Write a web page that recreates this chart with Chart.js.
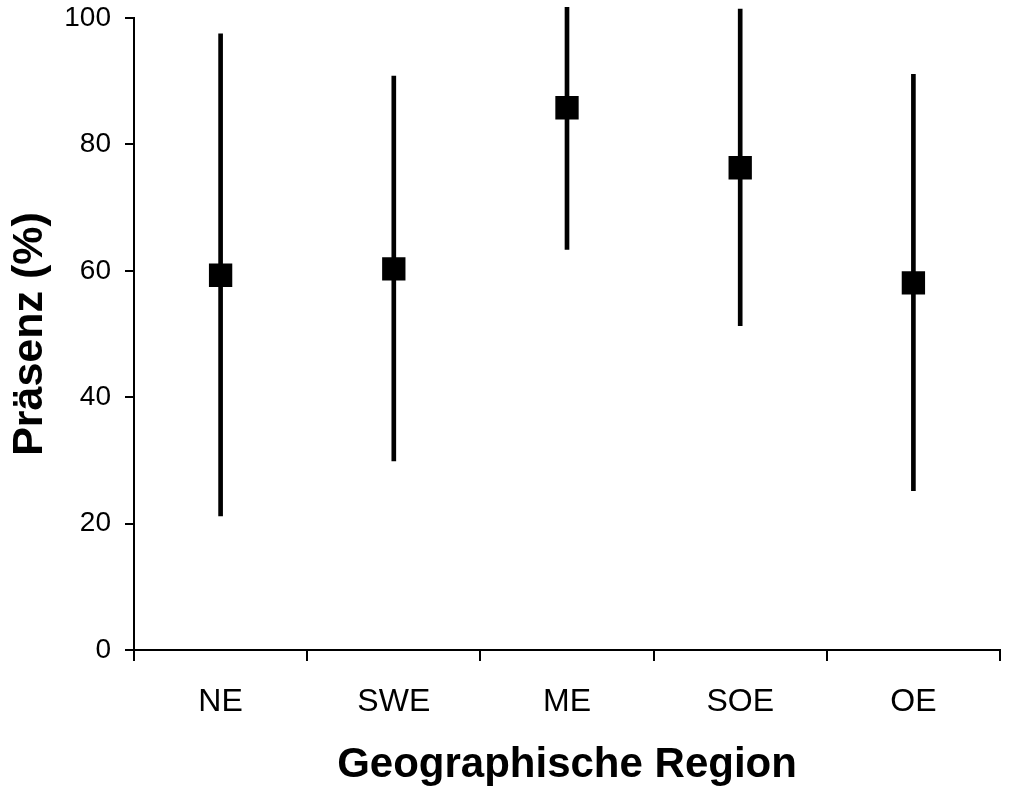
<!DOCTYPE html>
<html>
<head>
<meta charset="utf-8">
<script src="https://cdn.jsdelivr.net/npm/chart.js@4"></script>
<style>
  html, body { margin: 0; padding: 0; background: #fff; }
  #wrap { width: 1009px; height: 791px; }
</style>
</head>
<body>
<div id="wrap"><canvas id="chart"></canvas></div>
<script>
const regions = ['NE', 'SWE', 'ME', 'SOE', 'OE'];
const presence = [59.3, 60.3, 85.8, 76.3, 58.1];
const lowBound = [21.2, 29.9, 63.4, 51.3, 25.2];
const highBound = [97.5, 90.8, 101.7, 101.4, 91.1];
const yTicks = [0, 20, 40, 60, 80, 100];

const ranges = regions.map((r, i) => [lowBound[i], highBound[i]]);
const font = 'Liberation Sans, Arial, Helvetica, sans-serif';

new Chart(document.getElementById('chart'), {
    type: 'bar',
    data: {
        labels: regions,
        datasets: [
            {
                type: 'line',
                label: 'Präsenz',
                data: presence,
                showLine: false,
                pointStyle: 'rect',
                pointRadius: 16.5,
                pointHoverRadius: 16.5,
                backgroundColor: '#000',
                borderColor: '#000',
                borderWidth: 0,
                order: 0
            },
            {
                label: 'Bereich',
                data: ranges,
                backgroundColor: '#000',
                borderWidth: 0,
                barThickness: 4,
                clip: false,
                order: 1
            }
        ]
    },
    options: {
        responsive: true,
        maintainAspectRatio: false,
        animation: false,
        layout: { autoPadding: false, padding: { top: 18, right: 9, left: 0, bottom: 0 } },
        plugins: {
            legend: { display: false },
            tooltip: { enabled: false }
        },
        scales: {
            x: {
                offset: true,
                afterFit: function (axis) {
                    axis.height = 141;
                    axis.paddingLeft = 0;
                    axis.paddingRight = 0;
                },
                border: { display: true, color: '#000', width: 2 },
                grid: { display: true, offset: true, drawOnChartArea: false, color: '#000', lineWidth: 2, tickLength: 11 },
                ticks: { color: '#000', font: { family: font, size: 32 }, padding: 22 },
                title: {
                    display: true,
                    text: 'Geographische Region',
                    color: '#000',
                    font: { family: font, size: 42, weight: 'bold' },
                    padding: { top: 0, bottom: 0 }
                }
            },
            y: {
                min: 0,
                max: 100,
                afterFit: function (axis) {
                    axis.width = 134;
                    axis.paddingTop = 0;
                    axis.paddingBottom = 0;
                },
                afterBuildTicks: function (axis) { axis.ticks = yTicks.map(v => ({ value: v })); },
                border: { display: true, color: '#000', width: 2 },
                grid: { display: true, drawOnChartArea: false, color: '#000', lineWidth: 2, tickLength: 9 },
                ticks: { color: '#000', font: { family: font, size: 28 }, padding: 14 },
                title: {
                    display: true,
                    text: 'Präsenz (%)',
                    color: '#000',
                    font: { family: font, size: 43, weight: 'bold' },
                    padding: { top: 4, bottom: 0 }
                }
            }
        }
    }
});
</script>
</body>
</html>
